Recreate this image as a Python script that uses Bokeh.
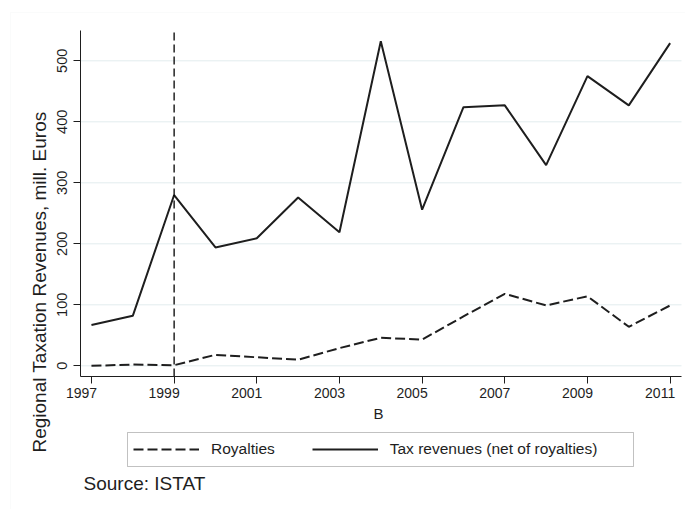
from math import pi

from bokeh.plotting import figure
from bokeh.models import (Legend, LegendItem, Label, LabelSet, LinearAxis, FixedTicker,
                          Range1d, BoxAnnotation, ColumnDataSource)
from bokeh.core.properties import value
from bokeh.embed import file_html
from bokeh.resources import INLINE

# Regional taxation revenues (million euros), 1997-2011
years = [1997, 1998, 1999, 2000, 2001, 2002, 2003, 2004, 2005, 2006, 2007, 2008, 2009, 2010, 2011]
royalties = [0, 2, 1, 18, 14, 10, 29, 46, 43, 81, 118, 99, 114, 64, 99]
tax_net = [67, 82, 280, 194, 209, 276, 219, 532, 256, 424, 427, 329, 475, 427, 529]

x_ticks = [1997, 1999, 2001, 2003, 2005, 2007, 2009, 2011]
y_ticks = [0, 100, 200, 300, 400, 500]
marker_year = 1999

y_title = "Regional Taxation Revenues, mill. Euros"
x_title = "B"
source_note = "Source: ISTAT"
series_names = ["Royalties", "Tax revenues (net of royalties)"]

SANS = "Liberation Sans"
INK = "#1e1e1e"

# canvas and plot-region geometry (pixels from the top-left corner)
W, H = 685, 509
PL, PR, PT, PB = 80, 681, 30, 376
X0, X1 = 1996.735, 2011.275      # data extent of the plot region
Y0, Y1 = -17.5, 549.7

kx = (X1 - X0) / (PR - PL)
ky = (Y1 - Y0) / (PB - PT)


def px_x(px):
    return X0 + (px - PL) * kx


def px_y(py):
    return Y0 + (PB - py) * ky


# the frame fills the whole canvas; the plot region sits inside it
p = figure(width=W, height=H, output_backend="svg", toolbar_location=None,
           x_range=Range1d(px_x(0), px_x(W)), y_range=Range1d(px_y(H), px_y(0)),
           x_axis_location=None, y_axis_location=None, min_border=0)
p.background_fill_color = "white"
p.border_fill_color = "white"
p.outline_line_color = None
for g in p.grid:
    g.visible = False

# outer graph-region border
p.add_layout(BoxAnnotation(left=px_x(10), right=px_x(W + 20), top=px_y(12), bottom=px_y(H + 20),
                           fill_alpha=0, line_color="#eef2f2", line_width=1))

# horizontal grid lines across the plot region
p.segment(x0=[X0] * len(y_ticks), x1=[X1] * len(y_ticks), y0=y_ticks, y1=y_ticks,
          line_color="#e2ecee", line_width=1)

# axes pinned to the plot region
yax = LinearAxis(fixed_location=X0, bounds=(Y0, Y1), ticker=FixedTicker(ticks=y_ticks),
                 axis_line_color=INK, major_tick_line_color=INK, minor_tick_line_color=None,
                 major_tick_in=0, major_tick_out=7, major_label_orientation="vertical",
                 major_label_standoff=6, major_label_text_font=SANS,
                 major_label_text_font_size="14.5px", major_label_text_color=INK)
p.add_layout(yax, "left")

xax = LinearAxis(fixed_location=Y0, bounds=(X0, X1), ticker=FixedTicker(ticks=x_ticks),
                 axis_line_color=INK, major_tick_line_color=INK, minor_tick_line_color=None,
                 major_tick_in=0, major_tick_out=7,
                 major_label_overrides={t: "" for t in x_ticks},
                 major_label_text_font_size="1px", major_label_standoff=0)
p.add_layout(xax, "below")

# year labels, set a little left of their ticks
tick_src = ColumnDataSource(dict(x=x_ticks, y=[px_y(392)] * len(x_ticks),
                                 t=[str(t) for t in x_ticks]))
p.add_layout(LabelSet(x="x", y="y", text="t", source=tick_src, x_offset=-10,
                      text_align="center", text_baseline="middle", text_font=value(SANS),
                      text_font_size=value("14px"), text_color=INK))

# series
r_roy = p.line(years, royalties, line_color=INK, line_width=2, line_dash="10 4")
r_tax = p.line(years, tax_net, line_color=INK, line_width=2)

# reference year marker
p.segment(x0=[marker_year], x1=[marker_year], y0=[Y0], y1=[Y1],
          line_color="#000000", line_width=1.3, line_dash="8 4")

# axis titles and note
p.add_layout(Label(x=px_x(39), y=px_y(281.5), text=y_title, angle=pi / 2,
                   text_align="center", text_baseline="middle", text_font=SANS,
                   text_font_size="19px", text_color=INK))
p.add_layout(Label(x=px_x(378), y=px_y(413), text=x_title, text_align="center",
                   text_baseline="middle", text_font=SANS, text_font_size="15px",
                   text_color=INK))
p.add_layout(Label(x=px_x(83), y=px_y(483), text=source_note, text_align="left",
                   text_baseline="middle", text_font=SANS, text_font_size="19px",
                   text_color=INK))

# legend below the plot region
legend = Legend(items=[LegendItem(label=series_names[0], renderers=[r_roy]),
                       LegendItem(label=series_names[1], renderers=[r_tax])],
                location=(133, H - 459), orientation="horizontal",
                glyph_width=66, glyph_height=20, label_height=20,
                label_standoff=12, spacing=37, padding=7, margin=0,
                label_text_font=SANS, label_text_font_size="15.5px",
                label_text_color=INK, border_line_color=None,
                background_fill_alpha=0)
p.add_layout(legend)
p.add_layout(BoxAnnotation(left=px_x(127), right=px_x(633), top=px_y(432), bottom=px_y(466),
                           fill_alpha=0, line_color="#333333", line_width=1))

open("out.html", "w").write(file_html(p, INLINE))
